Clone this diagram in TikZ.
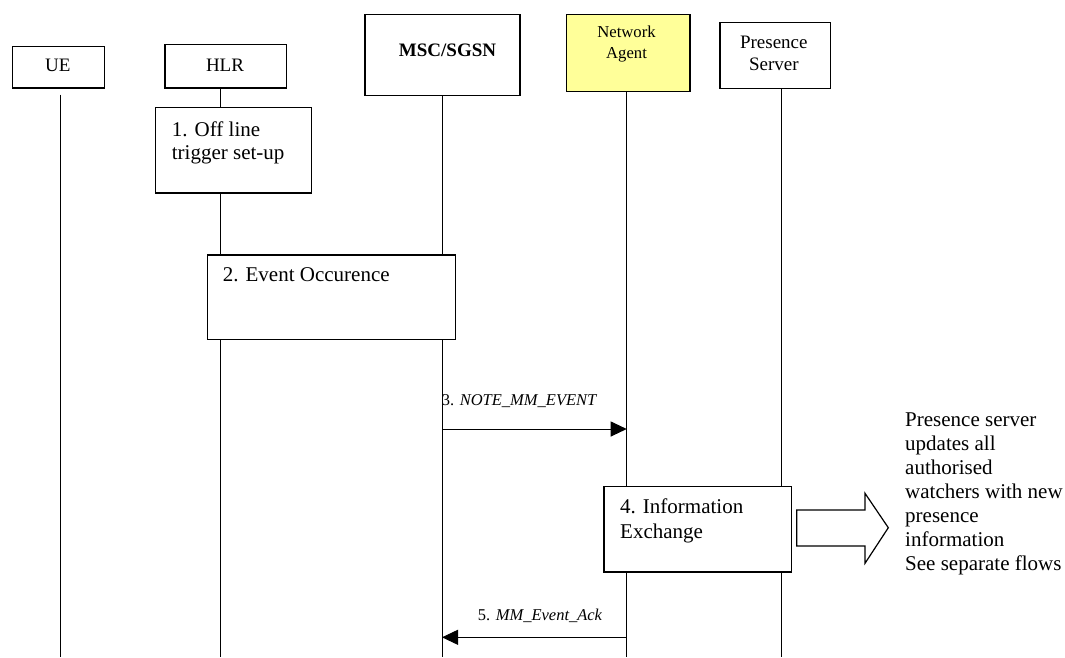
\documentclass[tikz,border=0pt]{standalone}
\usepackage{fontspec}
\setmainfont{Liberation Serif}
\usetikzlibrary{arrows.meta}
\definecolor{nayellow}{HTML}{FFFF99}
\begin{document}
\begin{tikzpicture}[x=1pt,y=-1pt,
  box/.style={draw=black, line width=1.2pt, fill=white, inner sep=0pt, anchor=north west},
  life/.style={draw=black, line width=1pt},
  msg/.style={draw=black, line width=1pt, -{Triangle[length=16pt,width=15pt]}},
  txt/.style={anchor=base west, inner sep=0pt, font=\fontsize{21}{23.3}\selectfont},
  hdr/.style={anchor=base, inner sep=0pt, font=\fontsize{19}{21.7}\selectfont},
  lbl/.style={anchor=base west, inner sep=0pt, font=\fontsize{16.5}{19}\selectfont}]
\useasboundingbox (0,0) rectangle (1065,657);
\fill[white] (0,0) rectangle (1065,657);

% lifeline x positions and rows
\coordinate (uex) at (60.3,0);
\coordinate (hlrx) at (220.7,0);
\coordinate (mscx) at (442,0);
\coordinate (nax) at (626.7,0);
\coordinate (psx) at (781,0);
\coordinate (bot) at (0,657);
\coordinate (y3) at (0,429);
\coordinate (y5) at (0,637.3);

% header boxes
\node[box, minimum width=92.3pt, minimum height=41.3pt] (ue) at (11.7,46) {};
\node[hdr] (uet) at (57.9,71.7) {UE};
\node[box, minimum width=121.4pt, minimum height=43.3pt] (hlr) at (164.3,44) {};
\node[hdr] (hlrt) at (225,71) {HLR};
\node[box, minimum width=155pt, minimum height=81pt] (msc) at (364.3,14) {};
\node[hdr, font=\fontsize{19}{21}\selectfont\bfseries] (msct) at (447.5,56.7) {MSC/SGSN};
\node[box, fill=nayellow, minimum width=123.6pt, minimum height=77pt] (na) at (565.7,14) {};
\node[hdr, font=\fontsize{16.7}{20.6}\selectfont] (nat) at (626.5,37.7) {\parbox[t]{100pt}{\centering Network\\Agent}};
\node[box, minimum width=110.7pt, minimum height=66pt] (ps) at (719.3,21.7) {};
\node[hdr] (pst) at (773.8,48.3) {\parbox[t]{100pt}{\centering Presence\\Server}};

% lifelines
\draw[life] ([yshift=-6pt]uex |- ue.south) -- (uex |- bot);
\draw[life] (hlrx |- hlr.south) -- (hlrx |- bot);
\draw[life] (mscx |- msc.south) -- (mscx |- bot);
\draw[life] (nax |- na.south) -- (nax |- bot);
\draw[life] (psx |- ps.south) -- (psx |- bot);

% activity boxes
\node[box, minimum width=156.3pt, minimum height=85.3pt] (b1) at (154.7,107) {};
\node[txt] (b1t) at (171.7,136) {\parbox[t]{140pt}{\raggedright 1. Off line\\trigger set-up}};
\node[box, minimum width=248.3pt, minimum height=84.7pt] (b2) at (206.7,254.3) {};
\node[txt] (b2t) at (222.7,281.7) {2. Event Occurence};
\node[box, minimum width=187.4pt, minimum height=85.3pt] (b4) at (603.3,486) {};
\node[txt, font=\fontsize{21}{25}\selectfont] (b4t) at (620,513.3) {\parbox[t]{160pt}{\raggedright 4. Information\\Exchange}};

% messages
\draw[msg] (mscx |- y3) -- (nax |- y3);
\node[lbl] (m3) at (441.7,405.7) {3. \textit{NOTE\_MM\_EVENT}};
\draw[msg] (nax |- y5) -- (mscx |- y5);
\node[lbl] (m5) at (477.7,620) {5. \textit{MM\_Event\_Ack}};

% block arrow and note
\draw[line width=1.2pt, fill=white, line join=miter]
  (796.7,510) -- (865,510) -- (865,493.3) -- (888.3,527.7) -- (865,563.3) -- (865,546) -- (796.7,546) -- cycle;
\node[txt, font=\fontsize{21}{24}\selectfont] (note) at (905,426) {\parbox[t]{158pt}{\raggedright Presence server\\updates all\\authorised\\watchers with new\\presence\\information\\See separate flows}};
\end{tikzpicture}
\end{document}
